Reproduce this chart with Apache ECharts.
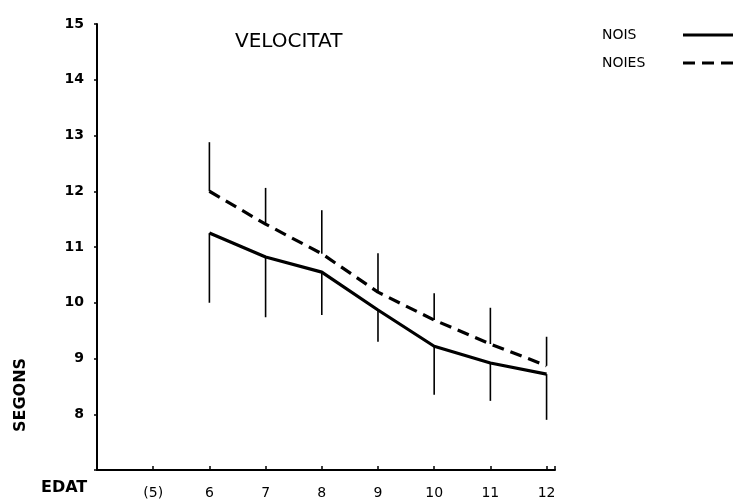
<!DOCTYPE html>
<html>
<head>
<meta charset="utf-8">
<script src="https://cdn.jsdelivr.net/npm/echarts@6/dist/echarts.min.js"></script>
<style>
  html, body { margin: 0; padding: 0; background: #fff; }
  #chart { width: 733px; height: 502px; }
</style>
</head>
<body>
<div id="chart"></div>
<script>
// Ages (years) on the horizontal axis
const ages = [6, 7, 8, 9, 10, 11, 12];
// Mean times in seconds
const boys = [11.25, 10.82, 10.55, 9.87, 9.22, 8.92, 8.72];
const girls = [12.0, 11.41, 10.88, 10.19, 9.69, 9.26, 8.87];
// Error bar ends: boys extend downward, girls upward
const boysLow = [10.0, 9.74, 9.78, 9.30, 8.35, 8.24, 7.90];
const girlsHigh = [12.88, 12.06, 11.66, 10.89, 10.17, 9.91, 9.39];
// Tick labels on the age axis
const ageLabels = { 5: '(5)', 6: '6', 7: '7', 8: '8', 9: '9', 10: '10', 11: '11', 12: '12' };

const FONT = '"DejaVu Sans", sans-serif';

function pairs(xs, ys) { return xs.map((x, i) => [x, ys[i]]); }
function bars(xs, a, b) { return xs.map((x, i) => [x, a[i], b[i]]); }

function errorBar(params, api) {
  const p0 = api.coord([api.value(0), api.value(1)]);
  const p1 = api.coord([api.value(0), api.value(2)]);
  return {
    type: 'line',
    shape: { x1: p0[0], y1: p0[1], x2: p1[0], y2: p1[1] },
    style: { stroke: '#000', lineWidth: 1.6 }
  };
}

const chart = echarts.init(document.getElementById('chart'));
chart.setOption({
  animation: false,
  backgroundColor: '#fff',
  title: {
    text: 'VELOCITAT',
    left: 230, top: 27,
    textStyle: { fontFamily: FONT, fontWeight: 'normal', fontSize: 20, color: '#000' }
  },
  legend: {
    orient: 'vertical',
    left: 597, top: 23,
    align: 'right',
    itemWidth: 56, itemHeight: 12,
    itemGap: 14,
    itemStyle: { opacity: 0 },
    lineStyle: { width: 3, color: '#000' },
    formatter: '{a|{name}}',
    textStyle: {
      fontFamily: FONT, fontSize: 14, color: '#000',
      rich: { a: { width: 76, align: 'left', fontFamily: FONT, fontSize: 14, color: '#000' } }
    },
    data: ['NOIS', 'NOIES']
  },
  grid: { left: 97, right: 178, top: 24, bottom: 32 },
  xAxis: {
    type: 'value',
    min: 4, max: 12.15, interval: 1,
    splitLine: { show: false },
    axisLine: { lineStyle: { color: '#000', width: 2 } },
    axisTick: { show: true, inside: true, length: 4, lineStyle: { color: '#000', width: 1.5 } },
    axisLabel: {
      margin: 16,
      fontFamily: FONT, fontSize: 14, color: '#000',
      formatter: v => ageLabels[v] || ''
    }
  },
  yAxis: {
    type: 'value',
    min: 7, max: 15, interval: 1,
    splitLine: { show: false },
    axisLine: { lineStyle: { color: '#000', width: 2 } },
    axisTick: { show: true, inside: false, length: 3, lineStyle: { color: '#000', width: 1.5 } },
    axisLabel: {
      margin: 13,
      fontFamily: FONT, fontSize: 14, fontWeight: 'bold', color: '#000',
      formatter: v => (v === 7 ? '' : String(v))
    }
  },
  graphic: [
    {
      type: 'text', left: 41, top: 480,
      style: { text: 'EDAT', font: 'bold 16px "DejaVu Sans", sans-serif', fill: '#000' }
    },
    {
      type: 'text', x: 21, y: 395, rotation: Math.PI / 2,
      style: { text: 'SEGONS', font: 'bold 16px "DejaVu Sans", sans-serif', fill: '#000',
               textAlign: 'center', textVerticalAlign: 'middle' }
    }
  ],
  series: [
    {
      name: 'NOIS', type: 'line', data: pairs(ages, boys),
      symbol: 'none', lineStyle: { color: '#000', width: 3.2 }, itemStyle: { color: '#000' }, z: 3
    },
    {
      name: 'NOIES', type: 'line', data: pairs(ages, girls),
      symbol: 'none', lineStyle: { color: '#000', width: 3.2, type: [12, 7] }, itemStyle: { color: '#000' }, z: 3
    },
    {
      name: 'boysErr', type: 'custom', renderItem: errorBar,
      data: bars(ages, boys, boysLow), encode: { x: 0, y: [1, 2] }, z: 2
    },
    {
      name: 'girlsErr', type: 'custom', renderItem: errorBar,
      data: bars(ages, girls, girlsHigh), encode: { x: 0, y: [1, 2] }, z: 2
    }
  ]
});
</script>
</body>
</html>
